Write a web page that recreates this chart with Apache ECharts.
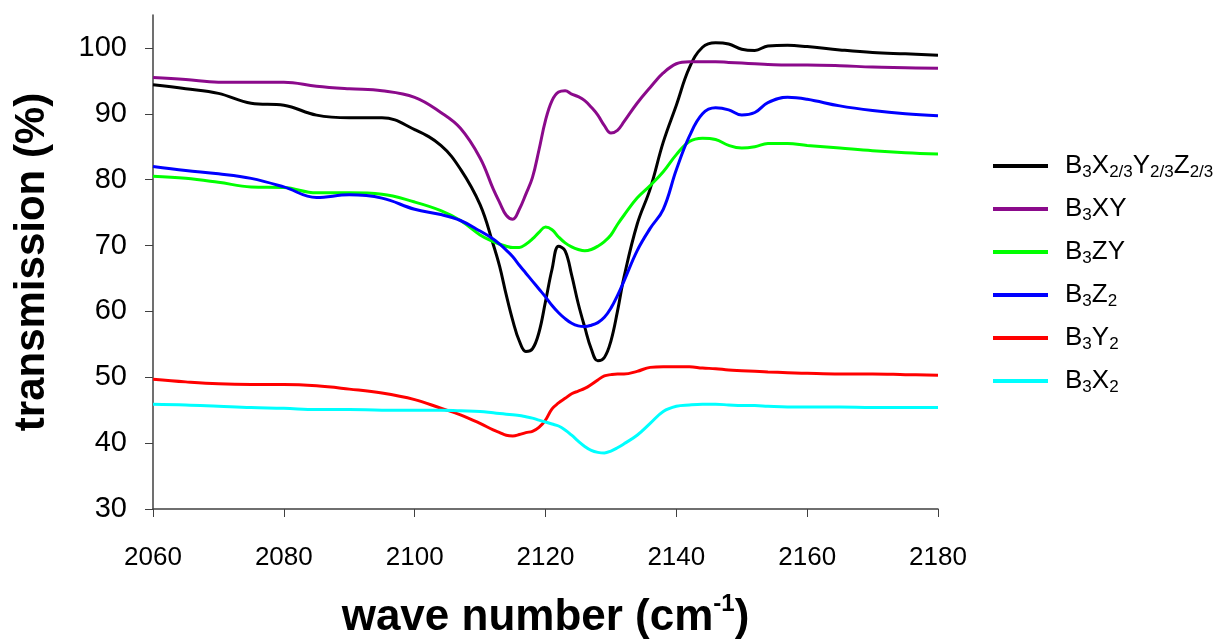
<!DOCTYPE html>
<html>
<head>
<meta charset="utf-8">
<title>transmission</title>
<script src="https://cdn.jsdelivr.net/npm/echarts@6/dist/echarts.min.js"></script>
<style>
  html, body { margin: 0; padding: 0; background: #fff; }
  #chart { width: 1228px; height: 639px; }
</style>
</head>
<body>
<div id="chart"></div>
<script>
// wave numbers (cm-1), denser around the absorption bands
const waves = [2060, 2065, 2070, 2075, 2080, 2085, 2090, 2095, 2100, 2104, 2107, 2110,
  2112, 2113, 2114, 2115, 2116, 2117, 2118, 2119, 2120, 2121, 2122, 2123, 2124, 2125,
  2126, 2127, 2128, 2129, 2130, 2131, 2132,
  2134, 2136, 2138, 2140, 2142, 2144, 2146, 2148, 2150, 2152, 2154,
  2157, 2160, 2165, 2170, 2175, 2180];

const b3xyz = [94.4, 93.8, 93.1, 91.6, 91.3, 89.8, 89.4, 89.4, 87.6, 85.2, 81.6, 76.2,
  70.2, 66.8, 62.5, 58.6, 55.5, 53.9, 54.3, 56.8, 61.5, 66.4, 69.9, 69.2, 65.5, 61.2,
  57.6, 54.3, 52.5, 53.0, 55.5, 60.0, 65.2,
  73.2, 78.6, 85.7, 91.3, 97.0, 100.1, 100.8, 100.6, 99.8, 99.6, 100.3,
  100.4, 100.2, 99.7, 99.3, 99.1, 98.9];
const b3xy = [95.5, 95.2, 94.8, 94.8, 94.8, 94.2, 93.8, 93.5, 92.5, 90.2, 87.8, 83.3,
  78.6, 76.5, 74.6, 74.0, 75.5, 77.8, 80.3, 84.5, 89.0, 92.0, 93.3, 93.5, 93.0, 92.6,
  92.0, 91.0, 89.8, 88.2, 87.1, 87.5, 88.8,
  91.6, 94.0, 96.2, 97.6, 97.9, 97.9, 97.9, 97.8, 97.7, 97.6, 97.5,
  97.4, 97.4, 97.3, 97.1, 97.0, 96.9];
const b3zy = [80.5, 80.2, 79.6, 78.9, 78.8, 78.0, 78.0, 77.8, 76.6, 75.3, 73.8, 71.6,
  70.6, 70.2, 69.9, 69.7, 69.7, 70.2, 71.0, 72.0, 72.8, 72.4, 71.3, 70.4, 69.8, 69.4,
  69.2, 69.4, 69.9, 70.6, 71.6, 73.2, 74.6,
  77.2, 79.1, 81.2, 83.8, 85.8, 86.3, 86.1, 85.2, 84.8, 85.0, 85.5,
  85.5, 85.2, 84.8, 84.4, 84.1, 83.9];
const b3z2 = [82.0, 81.4, 80.9, 80.2, 78.9, 77.3, 77.7, 77.2, 75.5, 74.7, 73.8, 72.2,
  71.0, 70.2, 69.3, 68.3, 67.0, 65.8, 64.6, 63.4, 62.2, 60.9, 59.8, 58.9, 58.2, 57.8,
  57.7, 57.9, 58.3, 59.1, 60.5, 62.4, 64.6,
  69.2, 72.6, 75.5, 81.5, 86.6, 90.0, 90.9, 90.6, 89.8, 90.2, 91.7,
  92.5, 92.2, 91.2, 90.5, 90.0, 89.7];
const b3y2 = [49.7, 49.3, 49.0, 48.9, 48.9, 48.7, 48.2, 47.6, 46.6, 45.3, 44.3, 43.0,
  42.0, 41.6, 41.2, 41.1, 41.3, 41.6, 41.8, 42.4, 43.5, 45.2, 46.1, 46.8, 47.5, 47.9,
  48.3, 48.9, 49.6, 50.2, 50.4, 50.5, 50.5,
  50.9, 51.5, 51.6, 51.6, 51.6, 51.4, 51.3, 51.1, 51.0, 50.9, 50.8,
  50.7, 50.6, 50.5, 50.5, 50.4, 50.3];
const b3x2 = [45.9, 45.8, 45.6, 45.4, 45.3, 45.1, 45.1, 45.0, 45.0, 45.0, 44.9, 44.8,
  44.6, 44.5, 44.4, 44.3, 44.2, 44.0, 43.8, 43.5, 43.2, 42.9, 42.6, 42.0, 41.2, 40.3,
  39.5, 38.9, 38.6, 38.5, 38.8, 39.3, 39.9,
  41.2, 43.0, 44.8, 45.6, 45.8, 45.9, 45.9, 45.8, 45.7, 45.7, 45.6,
  45.5, 45.5, 45.5, 45.4, 45.4, 45.4];

const names = ['B3X2/3Y2/3Z2/3', 'B3XY', 'B3ZY', 'B3Z2', 'B3Y2', 'B3X2'];
// rich-text versions for the legend (subscripts)
const labels = {
  'B3X2/3Y2/3Z2/3': '{n|B}{s|3}{n|X}{s|2/3}{n|Y}{s|2/3}{n|Z}{s|2/3}',
  'B3XY': '{n|B}{s|3}{n|XY}',
  'B3ZY': '{n|B}{s|3}{n|ZY}',
  'B3Z2': '{n|B}{s|3}{n|Z}{s|2}',
  'B3Y2': '{n|B}{s|3}{n|Y}{s|2}',
  'B3X2': '{n|B}{s|3}{n|X}{s|2}'
};
const colors = ['#000000', '#8b0a8b', '#00ff00', '#0000ff', '#ff0000', '#00ffff'];
const seriesData = [b3xyz, b3xy, b3zy, b3z2, b3y2, b3x2];
const yTicks = [30, 40, 50, 60, 70, 80, 90, 100];

const font = 'Arial, "Liberation Sans", sans-serif';

const chart = echarts.init(document.getElementById('chart'));
chart.setOption({
  animation: false,
  color: colors,
  grid: { left: 153, right: 290, top: 15, bottom: 130, containLabel: false, outerBoundsMode: 'none' },
  legend: {
    orient: 'vertical',
    left: 988,
    top: 148,
    icon: 'rect',
    itemWidth: 55,
    itemHeight: 4,
    itemGap: 15,
    selectedMode: false,
    data: names,
    formatter: name => labels[name],
    textStyle: {
      padding: [0, 0, 0, 12],
      rich: {
        n: { fontSize: 26, lineHeight: 26, verticalAlign: 'top', color: '#000', fontFamily: font },
        s: { fontSize: 17, lineHeight: 17, padding: [11, 0, 0, 0], verticalAlign: 'top', color: '#000', fontFamily: font }
      }
    }
  },
  xAxis: {
    type: 'value',
    min: 2060,
    max: 2180,
    interval: 20,
    name: '{b|wave number (cm}{p|-1}{b|)}',
    nameLocation: 'middle',
    nameGap: 85,
    nameTextStyle: {
      rich: {
        b: { fontSize: 44, fontWeight: 'bold', lineHeight: 46, verticalAlign: 'bottom', color: '#000', fontFamily: font },
        p: { fontSize: 24, fontWeight: 'bold', lineHeight: 24, padding: [0, 0, 24, 0], verticalAlign: 'bottom', color: '#000', fontFamily: font }
      }
    },
    axisLine: { lineStyle: { color: '#404040', width: 1.5 } },
    axisTick: { length: 8, lineStyle: { color: '#404040' } },
    axisLabel: { fontSize: 26, color: '#000', margin: 36, fontFamily: font, formatter: v => String(v) },
    splitLine: { show: false }
  },
  yAxis: {
    type: 'value',
    min: 30,
    max: 105,
    interval: 10,
    name: 'transmission (%)',
    nameLocation: 'middle',
    nameGap: 100,
    nameTextStyle: { fontSize: 42, fontWeight: 'bold', color: '#000', fontFamily: font },
    axisLine: { lineStyle: { color: '#404040', width: 1.5 } },
    axisTick: { length: 8, customValues: yTicks, lineStyle: { color: '#404040' } },
    axisLabel: { fontSize: 29, color: '#000', margin: 26, customValues: yTicks, fontFamily: font },
    splitLine: { show: false }
  },
  series: names.map((name, i) => ({
    name: name,
    type: 'line',
    smooth: 0.4,
    showSymbol: false,
    lineStyle: { width: 3, color: colors[i] },
    data: waves.map((w, k) => [w, seriesData[i][k]])
  }))
});
</script>
</body>
</html>
